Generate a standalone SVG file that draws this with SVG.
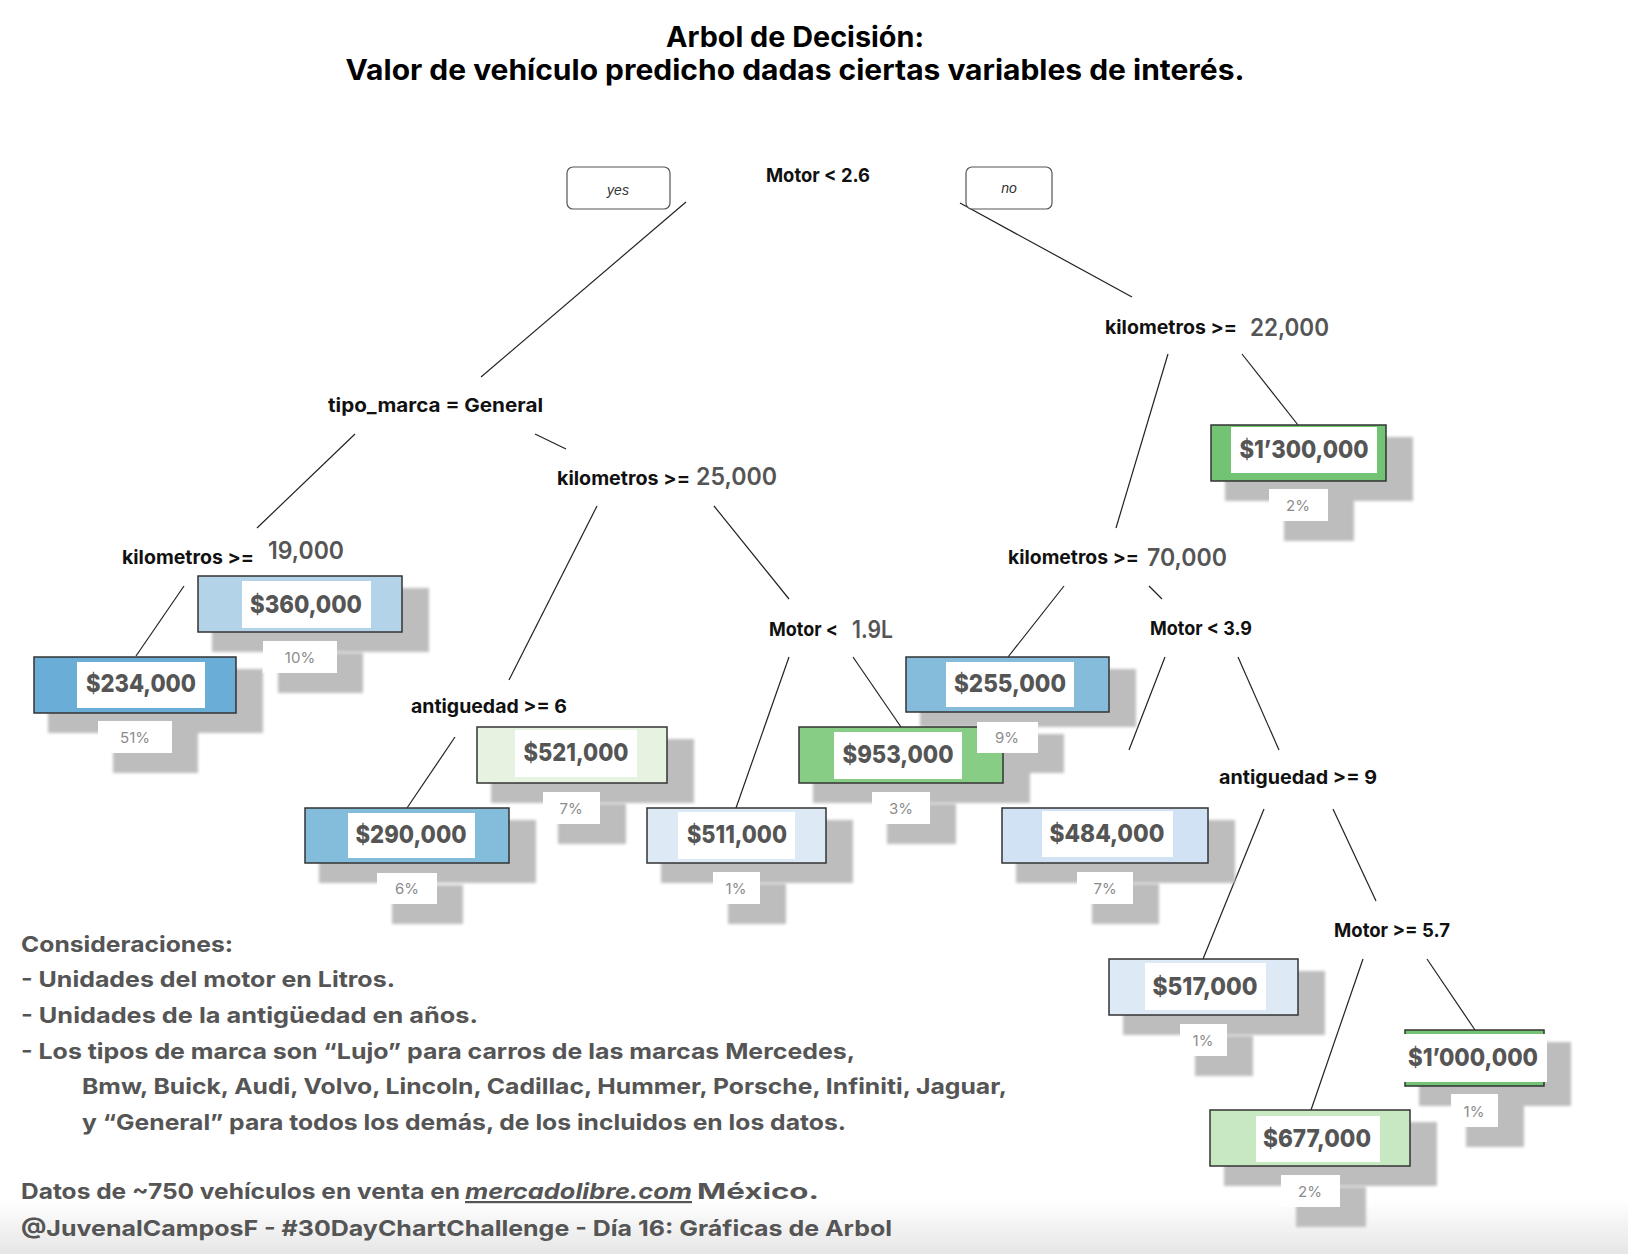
<svg xmlns="http://www.w3.org/2000/svg" width="1628" height="1254" viewBox="0 0 1628 1254">
  <defs>
    <filter id="soft" x="-10%" y="-10%" width="120%" height="120%">
      <feGaussianBlur stdDeviation="1.4"/>
    </filter>
    <linearGradient id="floor" x1="0" y1="0" x2="0" y2="1">
      <stop offset="0" stop-color="#ffffff"/>
      <stop offset="1" stop-color="#e6e6e6"/>
    </linearGradient>
    <style>
      text { font-family: Inter, "Liberation Sans", "DejaVu Sans", sans-serif; }
      .title { font-size: 28px; font-weight: 700; fill: #000; text-anchor: middle; }
      .lbl { font-size: 19px; font-weight: 700; fill: #111; }
      .num { font-size: 24px; font-weight: 600; fill: #555; }
      .val { font-size: 25px; font-weight: 800; fill: #555; text-anchor: middle; }
      .pct { font-size: 15px; font-weight: 400; fill: #8c8c8c; text-anchor: middle; }
      .yn { font-family: "Liberation Sans", Arial, sans-serif; font-size: 14px; font-style: italic; fill: #333; text-anchor: middle; }
      .ynbox { fill: #fff; stroke: #555; stroke-width: 1.2; }
      .box { stroke: #333; stroke-width: 1.5; }
      .inner { fill: #fff; }
      .tag { fill: #fff; }
      .sh { fill: #bdbdbd; }
      .edge { stroke: #222; stroke-width: 1.2; fill: none; }
      .note { font-size: 22px; font-weight: 700; fill: #555; }
    </style>
  </defs>

  <rect x="0" y="0" width="1628" height="1254" fill="#fff"/>
  <rect x="0" y="1200" width="1628" height="54" fill="url(#floor)"/>

  <!-- heading -->
  <g id="heading">
    <text class="title" x="795" y="47" textLength="258" lengthAdjust="spacingAndGlyphs">Arbol de Decisión:</text>
    <text class="title" x="795" y="80" textLength="899" lengthAdjust="spacingAndGlyphs">Valor de vehículo predicho dadas ciertas variables de interés.</text>
  </g>

  <!-- branches -->
  <g id="connectors">
    <line class="edge" x1="686" y1="202" x2="481" y2="377"/>
    <line class="edge" x1="960" y1="203" x2="1132" y2="297"/>
    <line class="edge" x1="355" y1="434" x2="257" y2="528"/>
    <line class="edge" x1="535" y1="434" x2="566" y2="449"/>
    <line class="edge" x1="597" y1="506" x2="509" y2="680"/>
    <line class="edge" x1="714" y1="506" x2="789" y2="599"/>
    <line class="edge" x1="184" y1="586" x2="136" y2="656"/>
    <line class="edge" x1="455" y1="737" x2="407" y2="808"/>
    <line class="edge" x1="789" y1="657" x2="736" y2="808"/>
    <line class="edge" x1="853" y1="657" x2="901" y2="727"/>
    <line class="edge" x1="1168" y1="354" x2="1116" y2="528"/>
    <line class="edge" x1="1242" y1="354" x2="1298" y2="425"/>
    <line class="edge" x1="1064" y1="586" x2="1008" y2="657"/>
    <line class="edge" x1="1149" y1="586" x2="1162" y2="599"/>
    <line class="edge" x1="1165" y1="657" x2="1129" y2="750"/>
    <line class="edge" x1="1238" y1="657" x2="1279" y2="750"/>
    <line class="edge" x1="1264" y1="809" x2="1203" y2="959"/>
    <line class="edge" x1="1333" y1="809" x2="1376" y2="901"/>
    <line class="edge" x1="1363" y1="959" x2="1311" y2="1110"/>
    <line class="edge" x1="1427" y1="959" x2="1475" y2="1030"/>
  </g>

  <!-- drop shadows under leaves and their share tags -->
  <g id="shadows" filter="url(#soft)">
    <rect class="sh" x="212" y="588" width="217" height="64"/>
    <rect class="sh" x="278" y="653" width="85" height="40"/>
    <rect class="sh" x="48" y="669" width="215" height="64"/>
    <rect class="sh" x="113" y="733" width="85" height="40"/>
    <rect class="sh" x="319" y="820" width="217" height="63"/>
    <rect class="sh" x="392" y="885" width="71" height="39"/>
    <rect class="sh" x="491" y="739" width="203" height="64"/>
    <rect class="sh" x="558" y="804" width="68" height="40"/>
    <rect class="sh" x="661" y="820" width="192" height="63"/>
    <rect class="sh" x="728" y="884" width="58" height="40"/>
    <rect class="sh" x="813" y="739" width="217" height="64"/>
    <rect class="sh" x="887" y="804" width="69" height="40"/>
    <rect class="sh" x="920" y="669" width="216" height="58"/>
    <rect class="sh" x="992" y="734" width="72" height="39"/>
    <rect class="sh" x="1016" y="820" width="219" height="63"/>
    <rect class="sh" x="1092" y="884" width="67" height="40"/>
    <rect class="sh" x="1225" y="437" width="188" height="64"/>
    <rect class="sh" x="1284" y="501" width="70" height="40"/>
    <rect class="sh" x="1123" y="971" width="202" height="64"/>
    <rect class="sh" x="1195" y="1036" width="58" height="40"/>
    <rect class="sh" x="1419" y="1042" width="152" height="64"/>
    <rect class="sh" x="1466" y="1106" width="58" height="41"/>
    <rect class="sh" x="1224" y="1122" width="213" height="64"/>
    <rect class="sh" x="1296" y="1187" width="70" height="40"/>
  </g>

  <!-- split nodes -->
  <g id="node-motor-2-6">
    <rect class="ynbox" x="567" y="167" width="103" height="42" rx="6"/>
    <text class="yn" x="618" y="195">yes</text>
    <rect class="ynbox" x="966" y="167" width="86" height="42" rx="6"/>
    <text class="yn" x="1009" y="193">no</text>
    <text class="lbl" x="766" y="182" textLength="104" lengthAdjust="spacingAndGlyphs">Motor &lt; 2.6</text>
  </g>
  <g id="node-tipo-marca">
    <text class="lbl" x="328" y="412" textLength="215" lengthAdjust="spacingAndGlyphs">tipo_marca = General</text>
  </g>
  <g id="node-km-25000">
    <text class="lbl" x="557" y="485" textLength="133" lengthAdjust="spacingAndGlyphs">kilometros &gt;=</text>
    <text class="num" x="696" y="485" textLength="81" lengthAdjust="spacingAndGlyphs">25,000</text>
  </g>
  <g id="node-km-19000">
    <text class="lbl" x="122" y="564" textLength="132" lengthAdjust="spacingAndGlyphs">kilometros &gt;=</text>
    <text class="num" x="268" y="559" textLength="76" lengthAdjust="spacingAndGlyphs">19,000</text>
  </g>
  <g id="node-antiguedad-6">
    <text class="lbl" x="411" y="713" textLength="156" lengthAdjust="spacingAndGlyphs">antiguedad &gt;= 6</text>
  </g>
  <g id="node-motor-1-9">
    <text class="lbl" x="769" y="636" textLength="69" lengthAdjust="spacingAndGlyphs">Motor &lt;</text>
    <text class="num" x="852" y="638" textLength="41" lengthAdjust="spacingAndGlyphs">1.9L</text>
  </g>
  <g id="node-km-22000">
    <text class="lbl" x="1105" y="334" textLength="132" lengthAdjust="spacingAndGlyphs">kilometros &gt;=</text>
    <text class="num" x="1250" y="336" textLength="79" lengthAdjust="spacingAndGlyphs">22,000</text>
  </g>
  <g id="node-km-70000">
    <text class="lbl" x="1008" y="564" textLength="131" lengthAdjust="spacingAndGlyphs">kilometros &gt;=</text>
    <text class="num" x="1147" y="566" textLength="80" lengthAdjust="spacingAndGlyphs">70,000</text>
  </g>
  <g id="node-motor-3-9">
    <text class="lbl" x="1150" y="635" textLength="102" lengthAdjust="spacingAndGlyphs">Motor &lt; 3.9</text>
  </g>
  <g id="node-antiguedad-9">
    <text class="lbl" x="1219" y="784" textLength="158" lengthAdjust="spacingAndGlyphs">antiguedad &gt;= 9</text>
  </g>
  <g id="node-motor-5-7">
    <text class="lbl" x="1334" y="937" textLength="116" lengthAdjust="spacingAndGlyphs">Motor &gt;= 5.7</text>
  </g>

  <!-- leaves: predicted price and share of vehicles -->
  <g id="leaf-360000">
    <rect class="box" x="198" y="576" width="204" height="56" fill="#b3d3e8"/>
    <rect class="inner" x="242" y="581" width="129" height="47"/>
    <text class="val" x="306" y="613" textLength="112" lengthAdjust="spacingAndGlyphs">$360,000</text>
    <rect class="tag" x="263" y="641" width="74" height="32"/>
    <text class="pct" x="300" y="663">10%</text>
  </g>
  <g id="leaf-234000">
    <rect class="box" x="34" y="657" width="202" height="56" fill="#6aadd6"/>
    <rect class="inner" x="77" y="662" width="128" height="46"/>
    <text class="val" x="141" y="692" textLength="110" lengthAdjust="spacingAndGlyphs">$234,000</text>
    <rect class="tag" x="98" y="721" width="74" height="32"/>
    <text class="pct" x="135" y="743">51%</text>
  </g>
  <g id="leaf-290000">
    <rect class="box" x="305" y="808" width="204" height="55" fill="#84bcdb"/>
    <rect class="inner" x="348" y="813" width="127" height="45"/>
    <text class="val" x="411" y="843" textLength="111" lengthAdjust="spacingAndGlyphs">$290,000</text>
    <rect class="tag" x="377" y="873" width="60" height="31"/>
    <text class="pct" x="407" y="894">6%</text>
  </g>
  <g id="leaf-521000">
    <rect class="box" x="477" y="727" width="190" height="56" fill="#e5f3e0"/>
    <rect class="inner" x="515" y="730" width="122" height="47"/>
    <text class="val" x="576" y="761" textLength="105" lengthAdjust="spacingAndGlyphs">$521,000</text>
    <rect class="tag" x="543" y="792" width="57" height="32"/>
    <text class="pct" x="571" y="814">7%</text>
  </g>
  <g id="leaf-511000">
    <rect class="box" x="647" y="808" width="179" height="55" fill="#dde9f5"/>
    <rect class="inner" x="678" y="812" width="117" height="47"/>
    <text class="val" x="737" y="843" textLength="100" lengthAdjust="spacingAndGlyphs">$511,000</text>
    <rect class="tag" x="713" y="872" width="47" height="32"/>
    <text class="pct" x="736" y="894">1%</text>
  </g>
  <g id="leaf-953000">
    <rect class="box" x="799" y="727" width="204" height="56" fill="#88cd86"/>
    <rect class="inner" x="834" y="732" width="128" height="47"/>
    <text class="val" x="898" y="763" textLength="111" lengthAdjust="spacingAndGlyphs">$953,000</text>
    <rect class="tag" x="872" y="792" width="58" height="32"/>
    <text class="pct" x="901" y="814">3%</text>
  </g>
  <g id="leaf-255000">
    <rect class="box" x="906" y="657" width="203" height="55" fill="#85bbdb"/>
    <rect class="inner" x="946" y="662" width="128" height="45"/>
    <text class="val" x="1010" y="692" textLength="112" lengthAdjust="spacingAndGlyphs">$255,000</text>
    <rect class="tag" x="977" y="722" width="61" height="31"/>
    <text class="pct" x="1007" y="743">9%</text>
  </g>
  <g id="leaf-484000">
    <rect class="box" x="1002" y="808" width="206" height="55" fill="#d0e2f3"/>
    <rect class="inner" x="1042" y="811" width="131" height="46"/>
    <text class="val" x="1107" y="842" textLength="115" lengthAdjust="spacingAndGlyphs">$484,000</text>
    <rect class="tag" x="1077" y="872" width="56" height="32"/>
    <text class="pct" x="1105" y="894">7%</text>
  </g>
  <g id="leaf-1300000">
    <rect class="box" x="1211" y="425" width="175" height="56" fill="#72c374"/>
    <rect class="inner" x="1231" y="427" width="146" height="46"/>
    <text class="val" x="1304" y="458" textLength="129" lengthAdjust="spacingAndGlyphs">$1’300,000</text>
    <rect class="tag" x="1269" y="489" width="59" height="32"/>
    <text class="pct" x="1298" y="511">2%</text>
  </g>
  <g id="leaf-517000">
    <rect class="box" x="1109" y="959" width="189" height="56" fill="#dde9f5"/>
    <rect class="inner" x="1145" y="963" width="121" height="47"/>
    <text class="val" x="1205" y="995" textLength="105" lengthAdjust="spacingAndGlyphs">$517,000</text>
    <rect class="tag" x="1180" y="1024" width="47" height="32"/>
    <text class="pct" x="1203" y="1046">1%</text>
  </g>
  <g id="leaf-1000000">
    <rect class="box" x="1405" y="1030" width="139" height="56" fill="#72c374"/>
    <rect class="inner" x="1404" y="1034" width="143" height="48"/>
    <text class="val" x="1473" y="1066" textLength="130" lengthAdjust="spacingAndGlyphs">$1’000,000</text>
    <rect class="tag" x="1451" y="1094" width="47" height="33"/>
    <text class="pct" x="1474" y="1117">1%</text>
  </g>
  <g id="leaf-677000">
    <rect class="box" x="1210" y="1110" width="200" height="56" fill="#c8e8c2"/>
    <rect class="inner" x="1256" y="1116" width="124" height="46"/>
    <text class="val" x="1317" y="1147" textLength="108" lengthAdjust="spacingAndGlyphs">$677,000</text>
    <rect class="tag" x="1281" y="1175" width="59" height="32"/>
    <text class="pct" x="1310" y="1197">2%</text>
  </g>

  <!-- notes and credits -->
  <g id="notes">
    <text class="note" x="21" y="952" textLength="212" lengthAdjust="spacingAndGlyphs">Consideraciones:</text>
    <text class="note" x="21" y="987" textLength="374" lengthAdjust="spacingAndGlyphs">- Unidades del motor en Litros.</text>
    <text class="note" x="21" y="1023" textLength="457" lengthAdjust="spacingAndGlyphs">- Unidades de la antigüedad en años.</text>
    <text class="note" x="21" y="1059" textLength="834" lengthAdjust="spacingAndGlyphs">- Los tipos de marca son “Lujo” para carros de las marcas Mercedes,</text>
    <text class="note" x="82" y="1094" textLength="925" lengthAdjust="spacingAndGlyphs">Bmw, Buick, Audi, Volvo, Lincoln, Cadillac, Hummer, Porsche, Infiniti, Jaguar,</text>
    <text class="note" x="82" y="1130" textLength="764" lengthAdjust="spacingAndGlyphs">y “General” para todos los demás, de los incluidos en los datos.</text>
    <text class="note" x="21" y="1199" textLength="439" lengthAdjust="spacingAndGlyphs">Datos de ~750 vehículos en venta en</text>
    <text class="note" x="465" y="1199" textLength="227" lengthAdjust="spacingAndGlyphs" font-style="italic" text-decoration="underline">mercadolibre.com</text>
    <text class="note" x="697" y="1199" textLength="122" lengthAdjust="spacingAndGlyphs">México.</text>
    <text class="note" x="21" y="1236" textLength="871" lengthAdjust="spacingAndGlyphs">@JuvenalCamposF - #30DayChartChallenge - Día 16: Gráficas de Arbol</text>
  </g>
</svg>
